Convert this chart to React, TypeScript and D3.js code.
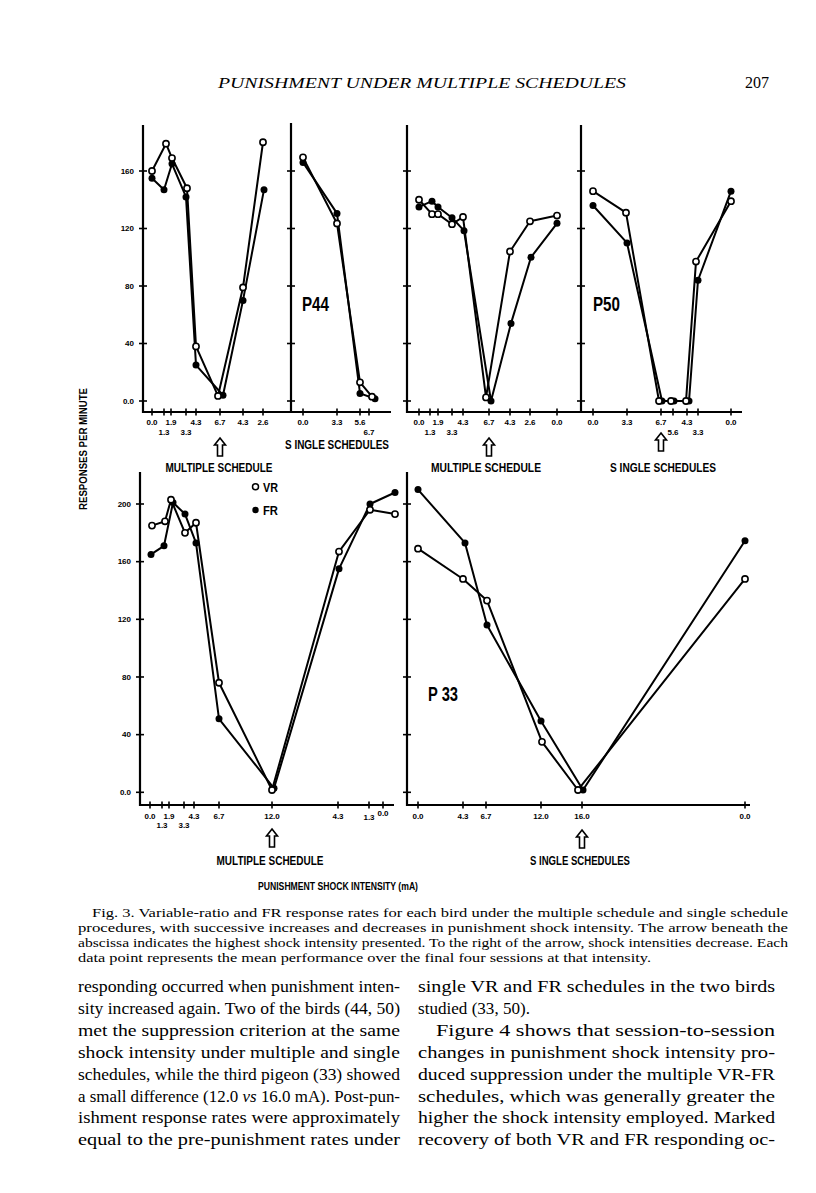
import React from "react";
import * as d3 from "d3";

// ---------------- DATA ----------------
const topYTicks = [0, 40, 80, 120, 160];
const topYTickLabels = ["0.0", "40", "80", "120", "160"];
const bottomYTicks = [0, 40, 80, 120, 160, 200];
const bottomYTickLabels = ["0.0", "40", "80", "120", "160", "200"];

// x positions are session positions along each abscissa (arbitrary units)
// P44 multiple schedule
const p44MultTicks = [9, 21, 28, 43, 53, 77, 100, 120];
const p44MultTickLabels = ["0.0", "1.3", "1.9", "3.3", "4.3", "6.7", "4.3", "2.6"];
const p44MultTickRows = [0, 1, 0, 1, 0, 0, 0, 0];
const p44MultVRPos = [9, 23, 29, 44, 53, 75, 100, 120];
const p44MultVR = [160, 179, 169, 148, 38, 3.5, 79, 180];
const p44MultFRPos = [9, 21, 29, 43, 53, 80, 100, 121];
const p44MultFR = [155, 147, 165, 142, 25, 4, 70, 147];

// P44 single schedules
const p44SingTicks = [12, 46, 69, 78];
const p44SingTickLabels = ["0.0", "3.3", "5.6", "6.7"];
const p44SingTickRows = [0, 0, 0, 1];
const p44SingVRPos = [12, 46, 69, 81];
const p44SingVR = [169.5, 123.5, 13, 3];
const p44SingFRPos = [12, 46, 69, 84];
const p44SingFR = [166, 130.5, 5.3, 1.6];

// P50 multiple schedule
const p50MultTicks = [12, 23, 31, 45, 56, 82, 103, 123, 150];
const p50MultTickLabels = ["0.0", "1.3", "1.9", "3.3", "4.3", "6.7", "4.3", "2.6", "0.0"];
const p50MultTickRows = [0, 1, 0, 1, 0, 0, 0, 0, 0];
const p50MultVRPos = [12, 25, 31, 45, 56, 79, 103, 123, 150];
const p50MultVR = [140, 130, 130, 123, 128, 2.5, 104, 125, 129];
const p50MultFRPos = [12, 25, 31, 45, 57, 84, 104, 124, 150];
const p50MultFR = [135, 139, 135, 127.5, 118.5, 0, 54, 100, 123.6];

// P50 single schedules
const p50SingTicks = [12, 46, 80, 92, 106, 117, 150];
const p50SingTickLabels = ["0.0", "3.3", "6.7", "5.6", "4.3", "3.3", "0.0"];
const p50SingTickRows = [0, 0, 0, 1, 0, 1, 0];
const p50SingVRPos = [12, 45, 78, 90, 105, 115, 150];
const p50SingVR = [146, 131, 0, 0, 0, 97, 139];
const p50SingFRPos = [12, 46, 81, 93, 108, 117, 150];
const p50SingFR = [136, 110, 0, 0, 0, 84, 146];

// P33 multiple schedule
const p33MultTicks = [10, 22, 29, 44, 54, 79, 132, 198, 229, 243];
const p33MultTickLabels = ["0.0", "1.3", "1.9", "3.3", "4.3", "6.7", "12.0", "4.3", "1.3", "0.0"];
const p33MultTickRows = [0, 1, 0, 1, 0, 0, 0, 0, 0.15, -0.3];
const p33MultVRPos = [12, 25, 31, 45, 56, 79, 132, 199, 230, 255];
const p33MultVR = [185, 188, 203, 180, 187, 76, 1.6, 167, 196, 193];
const p33MultFRPos = [11, 24, 33, 45, 56, 79, 134, 199, 230, 255];
const p33MultFR = [165, 171, 201, 193, 173, 51, 2.8, 155, 200, 208];

// P33 single schedules
const p33SingTicks = [11, 56, 79, 134, 175, 338];
const p33SingTickLabels = ["0.0", "4.3", "6.7", "12.0", "16.0", "0.0"];
const p33SingTickRows = [0, 0, 0, 0, 0, 0];
const p33SingVRPos = [11, 56, 80, 135, 171, 338];
const p33SingVR = [169, 148, 133, 35, 1.6, 148];
const p33SingFRPos = [11, 58, 80, 134, 176, 338];
const p33SingFR = [210, 173, 116, 49.5, 1.6, 174.5];

const captionLines = [
  "Fig. 3. Variable-ratio and FR response rates for each bird under the multiple schedule and single schedule",
  "procedures, with successive increases and decreases in punishment shock intensity. The arrow beneath the",
  "abscissa indicates the highest shock intensity presented. To the right of the arrow, shock intensities decrease. Each",
  "data point represents the mean performance over the final four sessions at that intensity.",
];
const leftColLines = [
  "responding occurred when punishment inten-",
  "sity increased again. Two of the birds (44, 50)",
  "met the suppression criterion at the same",
  "shock intensity under multiple and single",
  "schedules, while the third pigeon (33) showed",
  "a small difference (12.0 VS 16.0 mA). Post-pun-",
  "ishment response rates were approximately",
  "equal to the pre-punishment rates under",
];
const rightColLines = [
  "single VR and FR schedules in the two birds",
  "studied (33, 50).",
  "Figure 4 shows that session-to-session",
  "changes  in punishment shock intensity pro-",
  "duced suppression under the multiple VR-FR",
  "schedules, which was generally greater the",
  "higher the shock intensity employed. Marked",
  "recovery of both VR and FR responding oc-",
];

// ---------------- LAYOUT ----------------
const SANS = "'Liberation Sans', Arial, sans-serif";
const SERIF = "'Liberation Serif', 'Times New Roman', serif";

type PanelProps = {
  x0: number; x1: number; yTop: number; yBase: number;
  y: d3.ScaleLinear<number, number>;
  yTicks: number[]; yLabels?: string[];
  ticks: number[]; tickLabels: string[]; tickRows: number[];
  vrPos: number[]; vr: number[]; frPos: number[]; fr: number[];
  labelY: number; rowGap: number;
};

function Panel(p: PanelProps) {
  const x = d3.scaleLinear().domain([0, p.x1 - p.x0]).range([p.x0, p.x1]);
  const line = d3
    .line<[number, number]>()
    .x((d) => x(d[0]))
    .y((d) => p.y(d[1]));
  const vrPts = p.vrPos.map((v, i) => [v, p.vr[i]] as [number, number]);
  const frPts = p.frPos.map((v, i) => [v, p.fr[i]] as [number, number]);
  return (
    <g>
      <line x1={p.x0} x2={p.x0} y1={p.yTop} y2={p.yBase + 1} stroke="#000" strokeWidth={2.2} />
      <line x1={p.x0 - 1} x2={p.x1} y1={p.yBase} y2={p.yBase} stroke="#000" strokeWidth={2.2} />
      {p.yTicks.map((t, i) => (
        <g key={"yt" + i}>
          <line x1={p.x0 - 4} x2={p.x0 + 4} y1={p.y(t)} y2={p.y(t)} stroke="#000" strokeWidth={1.6} />
          {p.yLabels && (
            <text x={p.x0 - 9} y={p.y(t) + 2.8} textAnchor="end" fontFamily={SANS} fontWeight="bold" fontSize={8}>
              {p.yLabels[i]}
            </text>
          )}
        </g>
      ))}
      {p.ticks.map((t, i) => (
        <g key={"xt" + i}>
          <line x1={x(t)} x2={x(t)} y1={p.yBase - 3.5} y2={p.yBase + 3.5} stroke="#000" strokeWidth={1.6} />
          <text
            x={x(t)}
            y={p.labelY + p.tickRows[i] * p.rowGap}
            textAnchor="middle"
            fontFamily={SANS}
            fontWeight="bold"
            fontSize={8}
          >
            {p.tickLabels[i]}
          </text>
        </g>
      ))}
      <path d={line(vrPts) || ""} fill="none" stroke="#000" strokeWidth={2} strokeLinejoin="round" />
      <path d={line(frPts) || ""} fill="none" stroke="#000" strokeWidth={2} strokeLinejoin="round" />
      {frPts.map((d, i) => (
        <circle key={"fr" + i} cx={x(d[0])} cy={p.y(d[1])} r={3.5} fill="#000" />
      ))}
      {vrPts.map((d, i) => (
        <circle key={"vr" + i} cx={x(d[0])} cy={p.y(d[1])} r={3.1} fill="#fff" stroke="#000" strokeWidth={1.6} />
      ))}
    </g>
  );
}

function Arrow({ cx, top }: { cx: number; top: number }) {
  const d = `M${cx},${top} L${cx + 5.5},${top + 7} L${cx + 2.5},${top + 7} L${cx + 2.5},${top + 18} L${cx - 2.5},${top + 18} L${cx - 2.5},${top + 7} L${cx - 5.5},${top + 7} Z`;
  return <path d={d} fill="#fff" stroke="#000" strokeWidth={1.6} strokeLinejoin="miter" />;
}

function Label({ x, y, w, text, size = 12.5 }: { x: number; y: number; w: number; text: string; size?: number }) {
  return (
    <text x={x - w / 2} y={y} fontFamily={SANS} fontWeight="bold" fontSize={size} textLength={w} lengthAdjust="spacingAndGlyphs">
      {text}
    </text>
  );
}

export default function App() {
  const yTopRow = d3.scaleLinear().domain([0, 160]).range([401, 171]);
  const yBotRow = d3.scaleLinear().domain([0, 200]).range([792.3, 504]);

  const xA = d3.scaleLinear().domain([0, 148]).range([143, 291]);
  const xC = d3.scaleLinear().domain([0, 174]).range([407, 581]);
  const xD = d3.scaleLinear().domain([0, 161]).range([581, 742]);
  const xE = d3.scaleLinear().domain([0, 254]).range([140, 394]);
  const xF = d3.scaleLinear().domain([0, 343]).range([407, 750]);

  return (
    <svg
      width={816}
      height={1193}
      viewBox="0 0 816 1193"
      style={{ position: "absolute", left: 0, top: 0, background: "#fff" }}
    >
      <rect x={0} y={0} width={816} height={1193} fill="#fff" />
      {/* header */}
      <text x={218} y={88} fontFamily={SERIF} fontStyle="italic" fontSize={15.5} textLength={408} lengthAdjust="spacingAndGlyphs">
        PUNISHMENT UNDER MULTIPLE SCHEDULES
      </text>
      <text x={745} y={88} fontFamily={SERIF} fontSize={16} textLength={24} lengthAdjust="spacingAndGlyphs">
        207
      </text>

      {/* top row */}
      <Panel x0={143} x1={291} yTop={125} yBase={412} y={yTopRow} yTicks={topYTicks} yLabels={topYTickLabels}
        ticks={p44MultTicks} tickLabels={p44MultTickLabels} tickRows={p44MultTickRows}
        vrPos={p44MultVRPos} vr={p44MultVR} frPos={p44MultFRPos} fr={p44MultFR} labelY={425} rowGap={10} />
      <Panel x0={291} x1={391} yTop={123} yBase={412} y={yTopRow} yTicks={topYTicks}
        ticks={p44SingTicks} tickLabels={p44SingTickLabels} tickRows={p44SingTickRows}
        vrPos={p44SingVRPos} vr={p44SingVR} frPos={p44SingFRPos} fr={p44SingFR} labelY={425} rowGap={10} />
      <Panel x0={407} x1={581} yTop={125} yBase={412} y={yTopRow} yTicks={topYTicks}
        ticks={p50MultTicks} tickLabels={p50MultTickLabels} tickRows={p50MultTickRows}
        vrPos={p50MultVRPos} vr={p50MultVR} frPos={p50MultFRPos} fr={p50MultFR} labelY={425} rowGap={10} />
      <Panel x0={581} x1={742} yTop={125} yBase={412} y={yTopRow} yTicks={topYTicks}
        ticks={p50SingTicks} tickLabels={p50SingTickLabels} tickRows={p50SingTickRows}
        vrPos={p50SingVRPos} vr={p50SingVR} frPos={p50SingFRPos} fr={p50SingFR} labelY={425} rowGap={10} />

      {/* bottom row */}
      <Panel x0={140} x1={394} yTop={472} yBase={805} y={yBotRow} yTicks={bottomYTicks} yLabels={bottomYTickLabels}
        ticks={p33MultTicks} tickLabels={p33MultTickLabels} tickRows={p33MultTickRows}
        vrPos={p33MultVRPos} vr={p33MultVR} frPos={p33MultFRPos} fr={p33MultFR} labelY={818.5} rowGap={9} />
      <Panel x0={407} x1={750} yTop={472} yBase={805} y={yBotRow} yTicks={bottomYTicks}
        ticks={p33SingTicks} tickLabels={p33SingTickLabels} tickRows={p33SingTickRows}
        vrPos={p33SingVRPos} vr={p33SingVR} frPos={p33SingFRPos} fr={p33SingFR} labelY={818.5} rowGap={9} />

      {/* arrows marking highest intensity */}
      <Arrow cx={xA(p44MultTicks[5])} top={438} />
      <Arrow cx={xC(p50MultTicks[5])} top={438} />
      <Arrow cx={xD(p50SingTicks[2])} top={433} />
      <Arrow cx={xE(p33MultTicks[6])} top={829} />
      <Arrow cx={xF(p33SingTicks[4])} top={830} />

      {/* schedule labels */}
      <Label x={219} y={472} w={107} text="MULTIPLE SCHEDULE" />
      <Label x={337} y={449} w={104} text="S INGLE SCHEDULES" />
      <Label x={486} y={472} w={110} text="MULTIPLE SCHEDULE" />
      <Label x={663} y={472} w={106} text="S INGLE SCHEDULES" />
      <Label x={270} y={865} w={107} text="MULTIPLE SCHEDULE" />
      <Label x={580} y={865} w={100} text="S INGLE SCHEDULES" />

      {/* bird labels */}
      <Label x={315.5} y={311} w={27} text="P44" size={20} />
      <Label x={606.5} y={311} w={27} text="P50" size={20} />
      <Label x={443} y={701} w={30} text="P 33" size={20} />

      {/* legend */}
      <circle cx={255.5} cy={486.7} r={3} fill="#fff" stroke="#000" strokeWidth={1.5} />
      <text x={263} y={491.5} fontFamily={SANS} fontWeight="bold" fontSize={13} textLength={15} lengthAdjust="spacingAndGlyphs">VR</text>
      <circle cx={255.5} cy={510} r={3.2} fill="#000" />
      <text x={263} y={515} fontFamily={SANS} fontWeight="bold" fontSize={13} textLength={15} lengthAdjust="spacingAndGlyphs">FR</text>

      {/* axis titles */}
      <text
        transform="translate(86.5,449) rotate(-90)"
        x={-61}
        y={0}
        fontFamily={SANS}
        fontWeight="bold"
        fontSize={10.5}
        textLength={122}
        lengthAdjust="spacingAndGlyphs"
      >
        RESPONSES PER MINUTE
      </text>
      <text x={258} y={889.5} fontFamily={SANS} fontWeight="bold" fontSize={10.5} textLength={160} lengthAdjust="spacingAndGlyphs">
        PUNISHMENT SHOCK INTENSITY (mA)
      </text>

      {/* caption */}
      {captionLines.map((s, i) => (
        <text
          key={"cap" + i}
          x={i === 0 ? 92 : 78}
          y={917 + i * 15}
          fontFamily={SERIF}
          fontSize={12.5}
          textLength={i === 0 ? 696 : i === 3 ? 573 : 710}
          lengthAdjust="spacingAndGlyphs"
        >
          {s}
        </text>
      ))}

      {/* body columns */}
      {leftColLines.map((s, i) => (
        <text key={"l" + i} x={78} y={992 + i * 21.9} fontFamily={SERIF} fontSize={16.5} textLength={322} lengthAdjust="spacingAndGlyphs">
          {i === 5 ? (
            <>
              a small difference (12.0 <tspan fontStyle="italic">vs</tspan> 16.0 mA). Post-pun-
            </>
          ) : (
            s
          )}
        </text>
      ))}
      {rightColLines.map((s, i) => (
        <text
          key={"r" + i}
          x={i === 2 ? 436 : 418}
          y={992 + i * 21.9}
          fontFamily={SERIF}
          fontSize={16.5}
          textLength={i === 1 ? 112 : i === 2 ? 339 : 357}
          lengthAdjust="spacingAndGlyphs"
        >
          {s}
        </text>
      ))}
    </svg>
  );
}
